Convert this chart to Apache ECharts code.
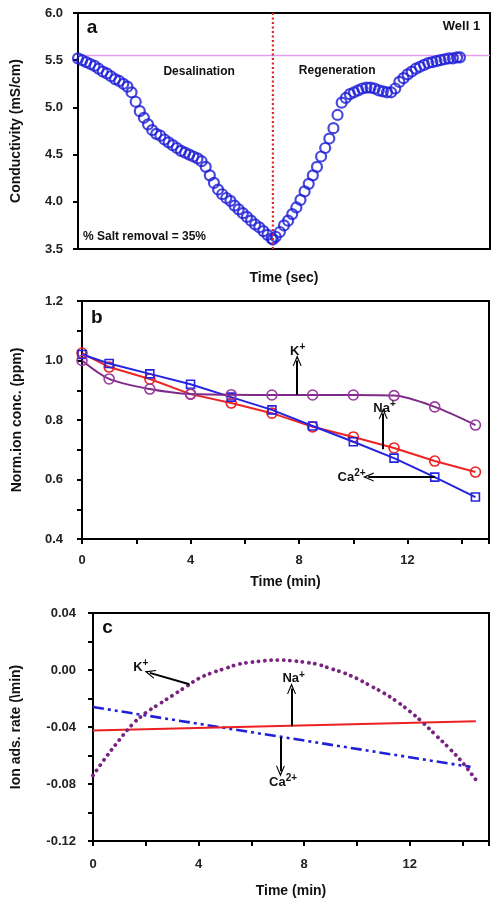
<!DOCTYPE html>
<html><head><meta charset="utf-8">
<script src="https://cdn.jsdelivr.net/npm/echarts@6/dist/echarts.min.js"></script>
<style>html,body{margin:0;padding:0;background:#fff}#c{width:492px;height:899px}</style>
</head><body><div id="c"></div>
<script>
// ---- Panel a: conductivity (Well 1) ----
const desalTime = [0,1,2,3,4,5,6,7,8,9,10,11,12,13,14,15,16,17,18,19,20,21,22,23,24,25,26,27,28,29,30,31,32,33,34,35,36,37,38,39,40,41,42,43,44,45,46,47,47.3];
const desalCond = [5.52,5.50,5.48,5.46,5.44,5.41,5.38,5.36,5.33,5.30,5.28,5.25,5.22,5.16,5.06,4.96,4.89,4.82,4.76,4.72,4.70,4.66,4.63,4.60,4.57,4.54,4.52,4.50,4.48,4.46,4.43,4.37,4.28,4.20,4.13,4.08,4.04,4.01,3.96,3.92,3.88,3.84,3.80,3.76,3.73,3.69,3.65,3.61,3.60];
const regenTime = [48,49,50,51,52,53,54,55,56,57,58,59,60,61,62,63,64,65,66,67,68,69,70,71,72,73,74,75,76,77,78,79,80,81,82,83,84,85,86,87,88,89,90,91,92,92.7];
const regenCond = [3.63,3.68,3.75,3.80,3.87,3.94,4.02,4.11,4.19,4.28,4.37,4.48,4.57,4.67,4.78,4.92,5.05,5.10,5.14,5.16,5.18,5.20,5.21,5.21,5.20,5.18,5.17,5.16,5.16,5.20,5.27,5.31,5.35,5.38,5.41,5.43,5.45,5.47,5.48,5.49,5.50,5.51,5.52,5.52,5.53,5.53];
const switchTime = 47.3;
const initialCond = 5.55;

// ---- Panel b: normalized ion concentration ----
const timeB = [0,1,2.5,4,5.5,7,8.5,10,11.5,13,14.5];
const caConc = [1.02,0.99,0.955,0.92,0.877,0.834,0.78,0.727,0.672,0.608,0.541];
const naConc = [1.025,0.978,0.938,0.887,0.857,0.823,0.777,0.743,0.706,0.662,0.625];
const kConc  = [1.0,0.938,0.904,0.887,0.885,0.884,0.884,0.884,0.882,0.844,0.783];

// ---- Panel c: ion adsorption rate ----
const timeK = [0,0.5,1,1.5,2,2.5,3,3.5,4,4.5,5,5.5,6,6.5,7,7.5,8,8.5,9,9.5,10,10.5,11,11.5,12,12.5,13,13.5,14,14.5];
const kRate = [-0.074,-0.061,-0.049,-0.038,-0.030,-0.024,-0.018,-0.012,-0.006,-0.002,0.001,0.004,0.0055,0.0065,0.007,0.0065,0.0055,0.004,0.001,-0.002,-0.006,-0.011,-0.016,-0.022,-0.029,-0.037,-0.046,-0.055,-0.065,-0.077];
const timeNa = [0,14.5];
const naRate = [-0.0425,-0.036];
const timeCa = [0,14.3];
const caRate = [-0.026,-0.068];

const FONT = 'Liberation Sans, Arial, sans-serif';
const zip = (a,b) => a.map((v,i)=>[v,b[i]]);
const rich = {
  t:{fontFamily:FONT,fontWeight:'bold',fontSize:13,color:'#111'},
  s:{fontFamily:FONT,fontWeight:'bold',fontSize:10,color:'#111',padding:[0,0,8,0]}
};
function ion(name,charge){return '{t|'+name+'}{s|'+charge+'}';}
function txt(coord, text, lbl){
  return {coord:coord, symbol:'circle', symbolSize:0, itemStyle:{color:'rgba(0,0,0,0)'},
    label:Object.assign({show:true, position:'inside', formatter:text, rich:rich,
      fontFamily:FONT, fontWeight:'bold', fontSize:12, color:'#111'}, lbl||{})};
}
function arrow(p1,p2){return [{coord:p1},{coord:p2}];}
const arrowHead = 'path://M0,0 L6,12 L4.6,12 L0,3.5 L-4.6,12 L-6,12 Z';

const axisLbl = {fontFamily:FONT,fontWeight:'bold',fontSize:13,color:'#222'};
const nameSty = {fontFamily:FONT,fontWeight:'bold',fontSize:14,color:'#111'};
const hollow = (c,w) => ({color:'rgba(255,255,255,0)',borderColor:c,borderWidth:w||1.6});

function xAx(i, opt){
  return Object.assign({type:'value',gridIndex:i,min:0,max:15,interval:2,
    axisLine:{show:true,onZero:false,lineStyle:{color:'#000',width:2}},
    axisTick:{show:true,inside:false,length:5,lineStyle:{color:'#000',width:2}},
    axisLabel:Object.assign({margin:15,formatter:v=>(Math.round(v)%4===0 && v<15)?String(Math.round(v)):''},axisLbl),
    splitLine:{show:false},name:'Time (min)',nameLocation:'middle',nameTextStyle:nameSty},opt);
}
function yAx(i,opt){
  return Object.assign({type:'value',gridIndex:i,
    axisLine:{show:true,onZero:false,lineStyle:{color:'#000',width:2}},
    axisTick:{show:true,inside:false,length:5,lineStyle:{color:'#000',width:2}},
    splitLine:{show:false},nameLocation:'middle',nameRotate:90,nameTextStyle:nameSty},opt);
}

const chart = echarts.init(document.getElementById('c'),null,{renderer:'canvas'});
chart.setOption({
  animation:false,
  backgroundColor:'#fff',
  grid:[
    {left:78,top:13,width:412,height:236,show:true,borderColor:'#000',borderWidth:2,backgroundColor:'transparent'},
    {left:82,top:301,width:412.5,height:238,show:true,borderColor:'#000',borderWidth:2,backgroundColor:'transparent'},
    {left:93,top:613,width:399,height:229,show:true,borderColor:'#000',borderWidth:2,backgroundColor:'transparent'}
  ],
  xAxis:[
    xAx(0,{min:0,max:100,interval:null,axisTick:{show:false},axisLabel:{show:false},name:'Time (sec)',nameGap:22}),
    xAx(1,{nameGap:36}),
    xAx(2,{nameGap:43,axisLabel:Object.assign({margin:17,formatter:v=>(Math.round(v)%4===0 && v<15)?String(Math.round(v)):''},axisLbl)})
  ],
  yAxis:[
    yAx(0,{min:3.5,max:6,interval:0.5,name:'Conductivity (mS/cm)',nameGap:55,
      axisLabel:Object.assign({margin:15,formatter:v=>v.toFixed(1)},axisLbl)}),
    yAx(1,{min:0.4,max:1.2,interval:0.1,name:'Norm.ion conc. (ppm)',nameGap:58,
      axisLabel:Object.assign({margin:19,formatter:v=>(Math.round(v*10)%2===0)?v.toFixed(1):''},axisLbl)}),
    yAx(2,{min:-0.12,max:0.04,interval:0.02,name:'Ion ads. rate (\\min)',nameGap:70,
      axisLabel:Object.assign({margin:17,formatter:v=>(Math.round(Math.abs(v)*100)%4===0)?(Math.abs(v)<1e-9?'0.00':v.toFixed(2)):''},axisLbl)})
  ],
  series:[
    // panel a
    {type:'line',xAxisIndex:0,yAxisIndex:0,data:[[0,initialCond],[100,initialCond]],symbol:'none',
      lineStyle:{color:'#e49cf0',width:1.5},z:1},
    {type:'scatter',xAxisIndex:0,yAxisIndex:0,data:zip(desalTime,desalCond),symbol:'circle',symbolSize:10,
      itemStyle:hollow('#1c1cd6',2.2),z:3},
    {type:'scatter',xAxisIndex:0,yAxisIndex:0,data:zip(regenTime,regenCond),symbol:'circle',symbolSize:10,
      itemStyle:hollow('#1c1cd6',2.2),z:3},
    {type:'line',xAxisIndex:0,yAxisIndex:0,data:[[switchTime,3.5],[switchTime,6]],symbol:'none',
      lineStyle:{color:'#e02424',width:2.2,type:[2,2.5]},z:4,
      markPoint:{silent:true,data:[
        txt([3.4,5.84],'a',{fontSize:19}),
        txt([97.6,5.86],'Well 1',{align:'right',fontSize:13}),
        txt([29.4,5.375],'Desalination'),
        txt([62.9,5.385],'Regeneration'),
        txt([1.2,3.63],'% Salt removal = 35%',{align:'left'})
      ]}
    },
    // panel b
    {type:'line',xAxisIndex:1,yAxisIndex:1,data:zip(timeB,caConc),symbol:'rect',symbolSize:8,showAllSymbol:true,
      lineStyle:{color:'#2424e0',width:2,type:'solid'},itemStyle:hollow('#2424e0'),z:3},
    {type:'line',xAxisIndex:1,yAxisIndex:1,data:zip(timeB,naConc),symbol:'circle',symbolSize:10,showAllSymbol:true,
      lineStyle:{color:'#ec2424',width:2,type:'solid'},itemStyle:hollow('#ec2424'),z:2},
    {type:'line',xAxisIndex:1,yAxisIndex:1,data:zip(timeB,kConc),symbol:'circle',symbolSize:10,smooth:0.3,showAllSymbol:true,
      lineStyle:{color:'#7e2a88',width:2,type:'solid'},itemStyle:hollow('#9a3aa0'),z:4,
      markLine:{silent:true,symbol:['none',arrowHead],symbolSize:[9,11],label:{show:false},lineStyle:{color:'#000',width:2,type:'solid'},data:[
        arrow([7.93,0.884],[7.93,1.0]),
        arrow([11.1,0.702],[11.1,0.822]),
        arrow([13,0.608],[10.55,0.608])
      ]},
      markPoint:{silent:true,data:[
        txt([0.55,1.143],'b',{fontSize:19}),
        txt([7.95,1.03],ion('K','+')),
        txt([11.15,0.84],ion('Na','+')),
        txt([10.45,0.608],ion('Ca','2+'),{align:'right'})
      ]}
    },
    // panel c
    {type:'line',xAxisIndex:2,yAxisIndex:2,data:zip(timeCa,caRate),symbol:'none',
      lineStyle:{color:'#2020d8',width:2.6,type:[11,4,3,4,3,4]}},
    {type:'line',xAxisIndex:2,yAxisIndex:2,data:zip(timeNa,naRate),symbol:'none',
      lineStyle:{color:'#ec2020',width:2,type:'solid'}},
    {type:'line',xAxisIndex:2,yAxisIndex:2,data:zip(timeK,kRate),symbol:'none',smooth:0.4,
      lineStyle:{color:'#7a2280',width:3.8,type:[0.1,6.2],cap:'round'},
      markLine:{silent:true,symbol:['none',arrowHead],symbolSize:[9,11],label:{show:false},lineStyle:{color:'#000',width:2,type:'solid',cap:'butt'},data:[
        arrow([3.65,-0.010],[2.15,-0.002]),
        arrow([7.52,-0.0394],[7.52,-0.013]),
        arrow([7.1,-0.047],[7.1,-0.071])
      ]},
      markPoint:{silent:true,data:[
        txt([0.55,0.0295],'c',{fontSize:19}),
        txt([2.1,0.0016],ion('K','+'),{align:'right'}),
        txt([7.6,-0.0062],ion('Na','+')),
        txt([7.2,-0.079],ion('Ca','2+'))
      ]}
    }
  ]
});
</script></body></html>
